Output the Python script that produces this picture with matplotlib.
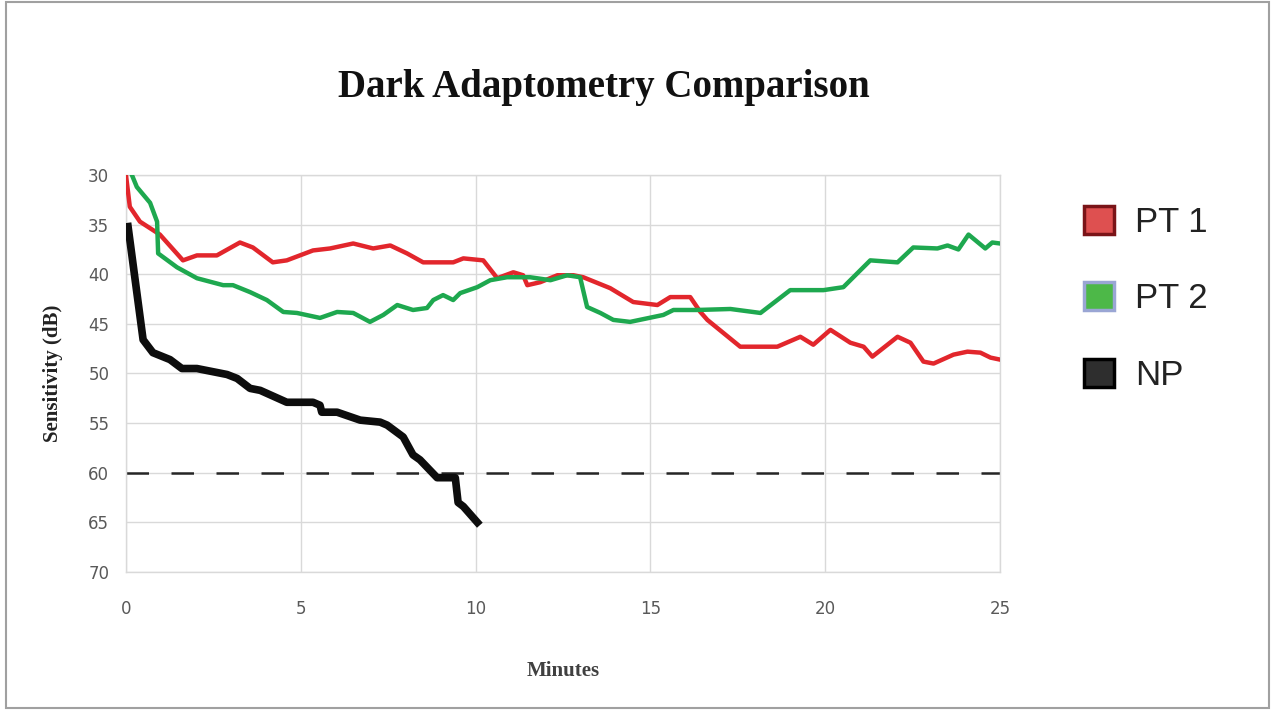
import matplotlib.pyplot as plt
from matplotlib.patches import Patch, Rectangle

# PT 1 (red)
pt1_x = [0.0, 0.11, 0.4, 0.97, 1.63, 2.03, 2.6, 3.26, 3.63, 4.2, 4.6, 5.35, 5.84, 6.5, 7.07,
         7.56, 8.04, 8.5, 9.36, 9.65, 10.22, 10.62, 11.08, 11.36, 11.48, 11.85, 12.34, 12.8,
         13.08, 13.85, 14.51, 15.2, 15.57, 16.14, 16.43, 16.63, 17.57, 18.63, 19.29, 19.66,
         20.15, 20.72, 21.1, 21.35, 22.07, 22.44, 22.81, 23.1, 23.67, 24.07, 24.44, 24.73, 25.0]
pt1_y = [30.0, 33.2, 34.7, 36.0, 38.6, 38.1, 38.1, 36.8, 37.3, 38.8, 38.6, 37.6, 37.4, 36.9, 37.4,
         37.1, 37.9, 38.8, 38.8, 38.4, 38.6, 40.4, 39.8, 40.1, 41.1, 40.8, 40.1, 40.1,
         40.3, 41.4, 42.8, 43.1, 42.3, 42.3, 43.8, 44.6, 47.3, 47.3, 46.3, 47.1,
         45.6, 46.9, 47.3, 48.3, 46.3, 46.9, 48.8, 49.0, 48.1, 47.8, 47.9, 48.4, 48.6]

# PT 2 (green)
pt2_x = [0.17, 0.31, 0.69, 0.89, 0.92, 1.46, 2.03, 2.78, 3.06, 3.55, 4.03, 4.5, 4.89, 5.55,
         6.04, 6.5, 6.98, 7.36, 7.76, 8.21, 8.61, 8.79, 9.07, 9.36, 9.56, 10.05, 10.42, 10.9,
         11.56, 12.14, 12.62, 12.99, 13.19, 13.57, 13.94, 14.42, 15.37, 15.66, 16.34, 17.29,
         18.15, 19.0, 19.95, 20.52, 21.29, 22.07, 22.52, 23.21, 23.5, 23.81, 24.1, 24.58,
         24.78, 25.0]
pt2_y = [30.0, 31.2, 32.8, 34.7, 37.9, 39.3, 40.4, 41.1, 41.1, 41.8, 42.6, 43.8, 43.9, 44.4,
         43.8, 43.9, 44.8, 44.1, 43.1, 43.6, 43.4, 42.6, 42.1, 42.6, 41.9, 41.3, 40.6, 40.3,
         40.3, 40.6, 40.1, 40.3, 43.3, 43.9, 44.6, 44.8, 44.1, 43.6, 43.6, 43.5,
         43.9, 41.6, 41.6, 41.3, 38.6, 38.8, 37.3, 37.4, 37.1, 37.5, 36.0, 37.4,
         36.8, 36.9]

# NP (black)
np_x = [0.06, 0.49, 0.77, 1.26, 1.6, 2.03, 2.89, 3.18, 3.55, 3.84, 4.6, 5.35, 5.55, 5.6, 6.04,
        6.7, 7.27, 7.47, 7.93, 8.21, 8.41, 8.9, 9.42, 9.5, 9.65, 10.05]
np_y = [35.2, 46.6, 47.9, 48.6, 49.5, 49.5, 50.1, 50.5, 51.5, 51.7, 52.9, 52.9, 53.2, 53.9, 53.9,
        54.7, 54.9, 55.2, 56.4, 58.2, 58.7, 60.5, 60.5, 63.0, 63.4, 65.0]

threshold = 60
x_ticks = [0, 5, 10, 15, 20, 25]
y_ticks = [30, 35, 40, 45, 50, 55, 60, 65, 70]

fig = plt.figure(figsize=(12.75, 7.10), dpi=100)
ax = fig.add_axes([0.0988, 0.1944, 0.6855, 0.5591])

ax.plot(pt1_x, pt1_y, color='#e2262c', lw=3.2, solid_joinstyle='round', zorder=3)
ax.plot(pt2_x, pt2_y, color='#1ea84f', lw=3.2, solid_joinstyle='round', zorder=3)
ax.plot(np_x, np_y, color='#0d0d0d', lw=5.5, solid_joinstyle='round', zorder=4)
ax.axhline(threshold, color='#262626', lw=1.8, dashes=(9, 9), zorder=2)

ax.set_xlim(0, 25)
ax.set_ylim(70, 30)
ax.set_xticks(x_ticks)
ax.set_yticks(y_ticks)
ax.grid(True, color='#d9d9d9', lw=1.0, zorder=0)
for s in ax.spines.values():
    s.set_color('#d9d9d9')
    s.set_linewidth(1.0)

tick_font = ['Liberation Sans Narrow', 'DejaVu Sans']
ax.tick_params(length=0, colors='#595959', labelsize=12)
ax.tick_params(axis='x', pad=20)
ax.tick_params(axis='y', pad=12)
for lab in ax.get_xticklabels() + ax.get_yticklabels():
    lab.set_family(tick_font)

ax.set_xlabel('Minutes', family='Liberation Serif', fontweight='bold', fontsize=15,
              color='#404040', labelpad=31)
ax.set_ylabel('Sensitivity (dB)', family='Liberation Serif', fontweight='bold', fontsize=15,
              color='#222222', labelpad=18)

fig.text(0.474, 0.877, 'Dark Adaptometry Comparison', family='Liberation Serif',
         fontweight='bold', fontsize=28, ha='center', va='center', color='#111111')

handles = [Patch(facecolor='#de5050', edgecolor='#7a1418', lw=2.5, label='PT 1'),
           Patch(facecolor='#4db848', edgecolor='#9aa6d4', lw=2.5, label='PT 2'),
           Patch(facecolor='#2e2e2e', edgecolor='#000000', lw=2.5, label='NP')]
fig.legend(handles=handles, loc='upper left', bbox_to_anchor=(0.826, 0.754),
           frameon=False, prop={'family': 'Liberation Sans', 'size': 25},
           handlelength=0.85, handleheight=0.85, handletextpad=0.6, labelspacing=1.25,
           labelcolor='#222222')

fig.patches.append(Rectangle((0.005, 0.003), 0.99, 0.994, transform=fig.transFigure,
                             fill=False, edgecolor='#a0a0a0', lw=1.5))

fig.savefig('out.png', dpi=100)
